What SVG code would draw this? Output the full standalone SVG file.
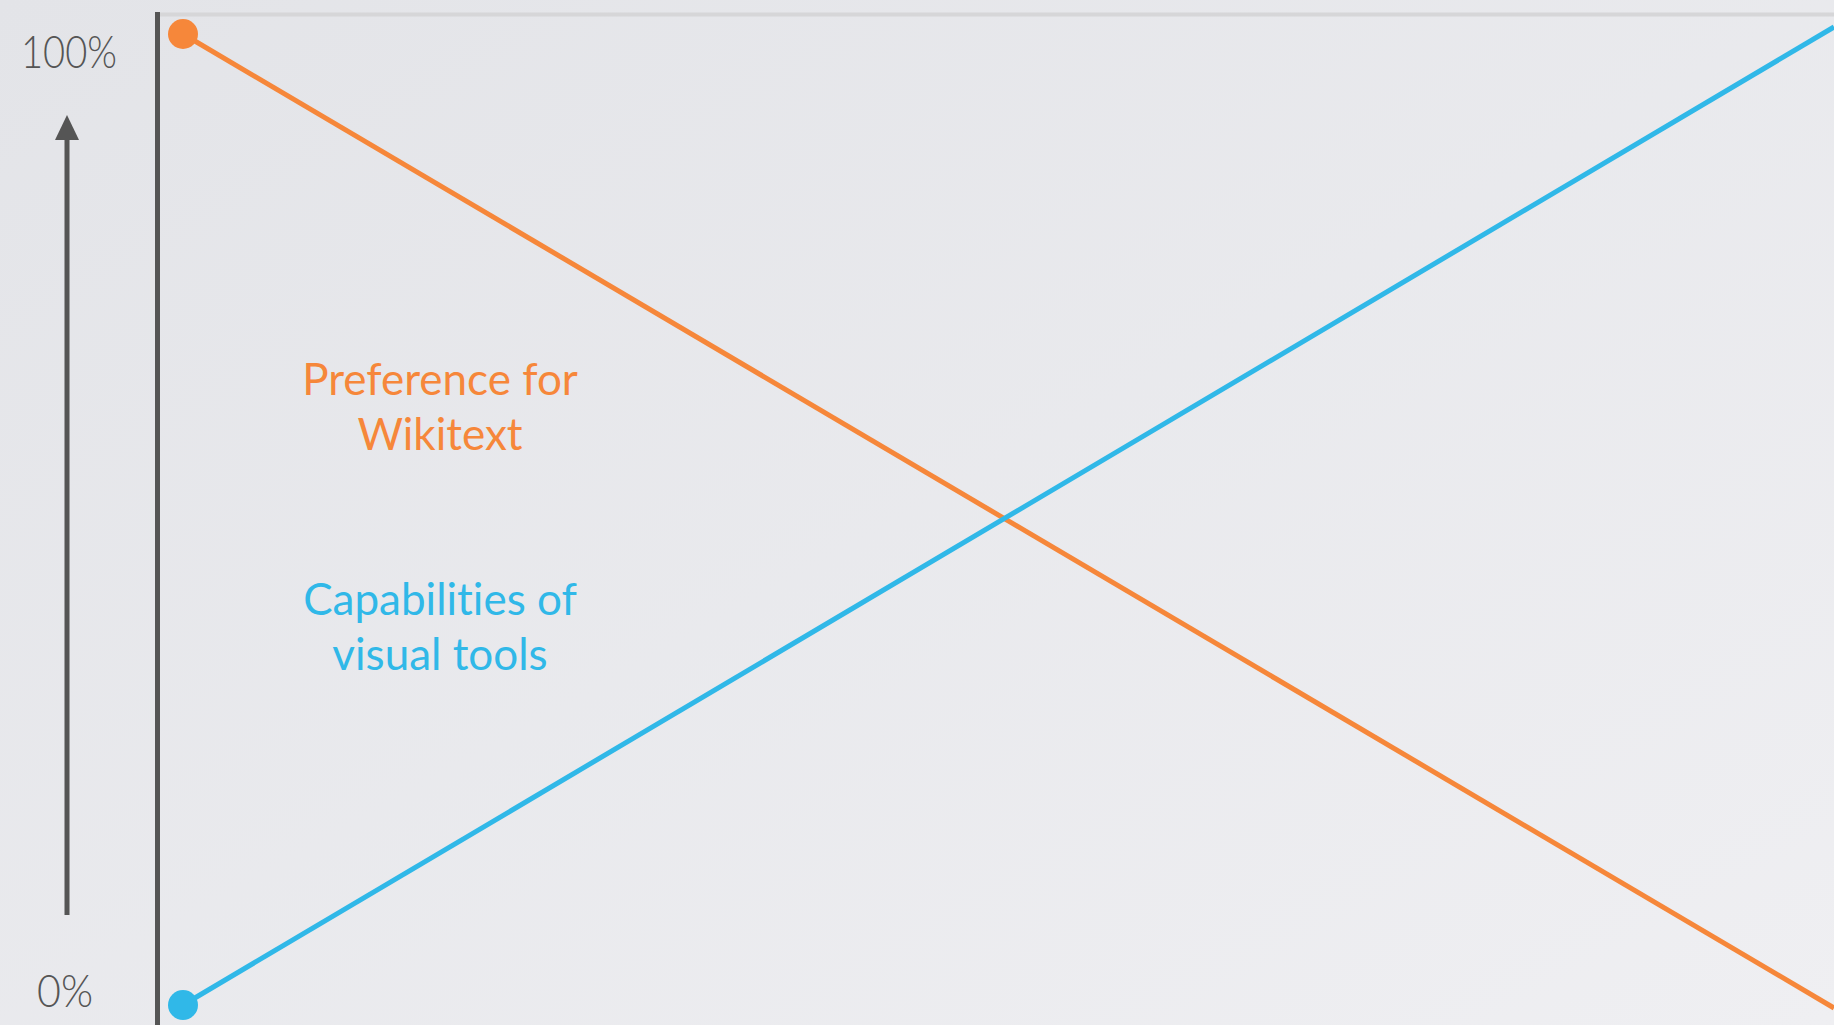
<svg xmlns="http://www.w3.org/2000/svg" width="1834" height="1025" viewBox="0 0 1834 1025">
<defs>
<linearGradient id="bg" x1="0" y1="0" x2="1" y2="1">
<stop offset="0" stop-color="#e3e4e8"/>
<stop offset="1" stop-color="#efeff2"/>
</linearGradient>
<style>
.lbl{font-family:Lato,"Open Sans","Liberation Sans",sans-serif;font-weight:300;fill:#555;font-size:45px}
.cap{font-family:Lato,"Open Sans","Liberation Sans",sans-serif;font-size:44px;text-anchor:middle;font-variant-ligatures:none}
.orange{fill:#f6873a}
.blue{fill:#30b8e8}
</style>
</defs>
<rect width="1834" height="1025" fill="url(#bg)"/>
<g id="frame">
<line x1="160" y1="14.5" x2="1834" y2="14.5" stroke="#d6d6d8" stroke-width="4"/>
<line x1="157.5" y1="12" x2="157.5" y2="1025" stroke="#555" stroke-width="5"/>
</g>
<g id="axis">
<line x1="67" y1="915" x2="67" y2="138" stroke="#555" stroke-width="5"/>
<path d="M55 140 L67 115 L79 140 Z" fill="#555"/>
<text class="lbl" x="21" y="68" textLength="96" lengthAdjust="spacingAndGlyphs">100%</text>
<text class="lbl" x="37" y="1007" textLength="56" lengthAdjust="spacingAndGlyphs">0%</text>
</g>
<g id="connectors">
<line x1="183" y1="34" x2="1834" y2="1008" stroke="#f6873a" stroke-width="5"/>
<line x1="183" y1="1005" x2="1834" y2="27" stroke="#30b8e8" stroke-width="5"/>
</g>
<g id="node-orange-start"><circle cx="183" cy="34" r="15" fill="#f6873a"/></g>
<g id="node-blue-start"><circle cx="183" cy="1005" r="15" fill="#30b8e8"/></g>
<g id="label-preference">
<text class="cap orange" x="440" y="395">Preference for</text>
<text class="cap orange" x="440" y="450">Wikitext</text>
</g>
<g id="label-capabilities">
<text class="cap blue" x="440" y="615">Capabilities of</text>
<text class="cap blue" x="440" y="670">visual tools</text>
</g>
</svg>
